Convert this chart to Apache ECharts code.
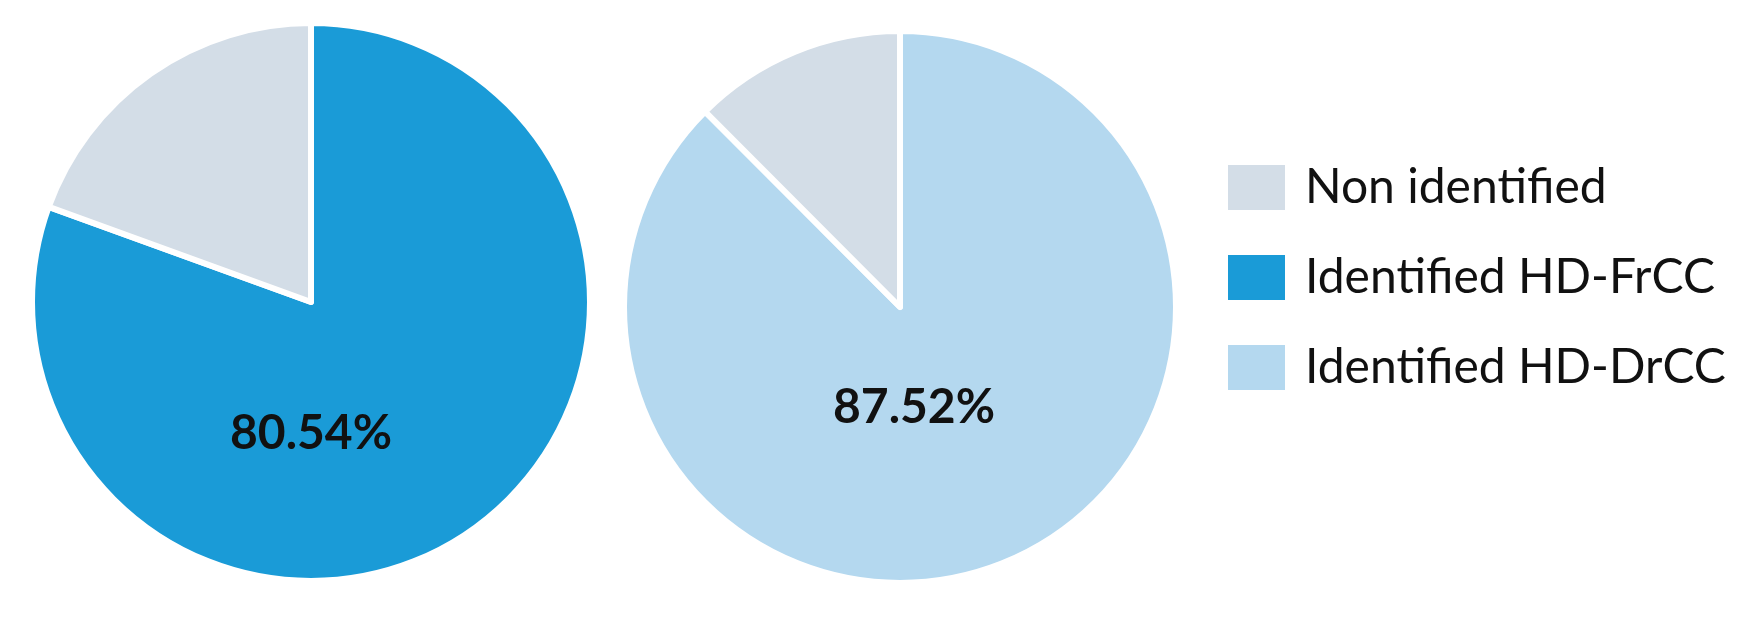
<!DOCTYPE html>
<html>
<head>
<meta charset="utf-8">
<script src="https://cdn.jsdelivr.net/npm/echarts@6/dist/echarts.min.js"></script>
<style>
  html, body { margin: 0; padding: 0; background: #fff; }
  #chart { width: 1754px; height: 623px; }
</style>
</head>
<body>
<div id="chart"></div>
<script>
// data
const legendNames = ['Non identified', 'Identified HD-FrCC', 'Identified HD-DrCC'];
const frccValues = [80.54, 19.46];   // identified, non identified
const drccValues = [87.52, 12.48];
const colors = ['#D3DDE7', '#1A9BD7', '#B4D8EF'];

const chart = echarts.init(document.getElementById('chart'));

// label sits below the pie centre: an empty rich line of height 2*shift pushes it down,
// left padding nudges it sideways
const makePie = (name, identName, values, identColor, center, radius, shift, nudge) => ({
    name: name,
    type: 'pie',
    center: center,
    radius: radius,
    startAngle: 90,
    clockwise: true,
    silent: true,
    itemStyle: { borderColor: '#fff', borderWidth: 6 },
    label: {
        show: true,
        position: 'center',
        formatter: (p) => '{sp|}\n{v|' + p.value.toFixed(2) + '%}',
        rich: {
            sp: { height: shift * 2, lineHeight: shift * 2 },
            v: {
                fontFamily: 'Lato',
                fontWeight: 'bold',
                fontSize: 48,
                lineHeight: 50,
                color: '#111',
                padding: [0, 0, 0, nudge * 2]
            }
        }
    },
    labelLine: { show: false },
    data: [
        { value: values[0], name: identName, itemStyle: { color: identColor } },
        { value: values[1], name: 'Non identified', itemStyle: { color: colors[0] }, label: { show: false } }
    ]
});

const option = {
    animation: false,
    legend: {
        data: legendNames,
        orient: 'vertical',
        left: 1221,
        top: 158,
        icon: 'rect',
        itemWidth: 59,
        itemHeight: 47,
        itemGap: 41,
        selectedMode: false,
        textStyle: {
            fontFamily: 'Lato',
            fontSize: 48,
            lineHeight: 47,
            color: '#111',
            padding: [0, 0, 0, 14]
        }
    },
    series: [
        makePie('FrCC', legendNames[1], frccValues, colors[1], [311, 302], 279, 132, 0),
        makePie('DrCC', legendNames[2], drccValues, colors[2], [900, 307], 276, 101, 14)
    ]
};

chart.setOption(option);
</script>
</body>
</html>
